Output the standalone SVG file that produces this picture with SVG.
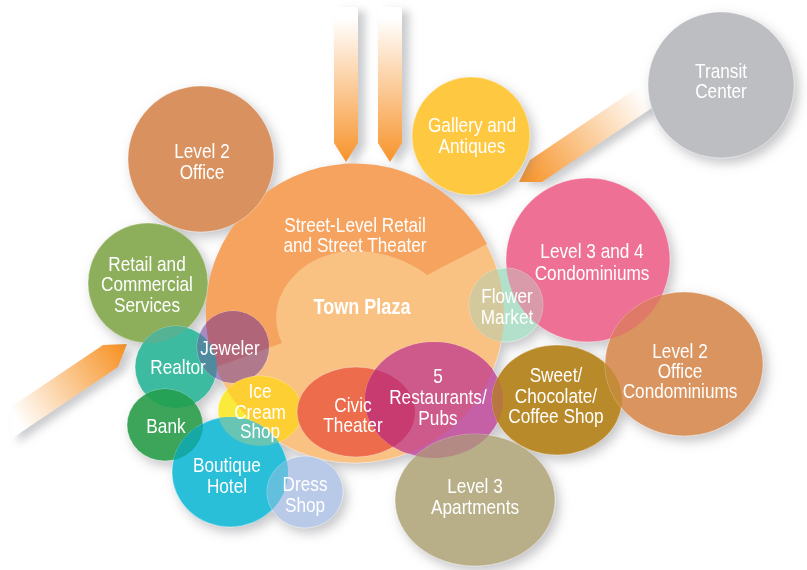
<svg xmlns="http://www.w3.org/2000/svg" xmlns:xlink="http://www.w3.org/1999/xlink" width="807" height="570" viewBox="0 0 807 570">
<style>
.t{fill:#fff;font-family:"Liberation Sans Narrow","Arial Narrow","Liberation Sans",sans-serif;font-size:21px;text-anchor:middle}
.b{font-weight:bold;font-size:22px}
.edge{stroke:#fff;stroke-opacity:0.45;stroke-width:0.8}
</style>
<defs>
<filter id="sh" x="-20%" y="-20%" width="140%" height="140%">
<feDropShadow dx="4" dy="5" stdDeviation="6" flood-color="#7a7c82" flood-opacity="0.45"/>
</filter>
<filter id="sha" x="-30%" y="-10%" width="160%" height="130%">
<feDropShadow dx="7" dy="4" stdDeviation="4" flood-color="#8a8c92" flood-opacity="0.45"/>
</filter>
<linearGradient id="gTop" gradientUnits="userSpaceOnUse" x1="0" y1="18" x2="0" y2="162">
<stop offset="0" stop-color="#ffffff"/><stop offset="1" stop-color="#f7932b"/>
</linearGradient>
<linearGradient id="gTr" gradientUnits="userSpaceOnUse" x1="525" y1="178" x2="645" y2="96">
<stop offset="0" stop-color="#f7962e"/><stop offset="1" stop-color="#ffffff"/>
</linearGradient>
<linearGradient id="gLf" gradientUnits="userSpaceOnUse" x1="18" y1="422" x2="122" y2="352">
<stop offset="0" stop-color="#ffffff"/><stop offset="1" stop-color="#f7962c"/>
</linearGradient>
<circle id="s-big" cx="355" cy="314" r="149"/>
<path id="s-band" d="M216,367 A149,149 0 0 1 487,244 L427,275 C410,262 385,251 355,251 C320,251 290,270 279,300 C274,315 276,330 282,343 Z"/>
<circle id="s-office2" cx="201" cy="159" r="73"/>
<circle id="s-gallery" cx="471" cy="136" r="59"/>
<circle id="s-transit" cx="721" cy="85" r="73"/>
<circle id="s-pink" cx="588" cy="260" r="82"/>
<circle id="s-retail" cx="148" cy="283" r="60"/>
<circle id="s-flower" cx="506" cy="305" r="37"/>
<circle id="s-realtor" cx="176" cy="367" r="41"/>
<ellipse id="s-bank" cx="165" cy="425" rx="38" ry="36"/>
<circle id="s-jeweler" cx="233" cy="347" r="36"/>
<ellipse id="s-ice" cx="260" cy="411" rx="42" ry="35"/>
<ellipse id="s-hotel" cx="230" cy="472" rx="58" ry="55"/>
<ellipse id="s-dress" cx="305" cy="492" rx="38" ry="36"/>
<ellipse id="s-civic" cx="356" cy="412" rx="59" ry="45"/>
<ellipse id="s-rest" cx="434" cy="400" rx="69" ry="58"/>
<ellipse id="s-sweet" cx="557" cy="400" rx="65" ry="55"/>
<ellipse id="s-office2c" cx="684" cy="364" rx="79" ry="72"/>
<ellipse id="s-apts" cx="475" cy="500" rx="80" ry="66"/>
<clipPath id="c-big"><use xlink:href="#s-big"/></clipPath>
<clipPath id="c-band"><use xlink:href="#s-band"/></clipPath>
<clipPath id="c-pink"><use xlink:href="#s-pink"/></clipPath>
<clipPath id="c-retail"><use xlink:href="#s-retail"/></clipPath>
<clipPath id="c-realtor"><use xlink:href="#s-realtor"/></clipPath>
<clipPath id="c-bank"><use xlink:href="#s-bank"/></clipPath>
<clipPath id="c-hotel"><use xlink:href="#s-hotel"/></clipPath>
<clipPath id="c-civic"><use xlink:href="#s-civic"/></clipPath>
<clipPath id="c-rest"><use xlink:href="#s-rest"/></clipPath>
<clipPath id="c-office2c"><use xlink:href="#s-office2c"/></clipPath>
</defs>
<rect width="807" height="570" fill="#ffffff"/>

<g id="connectors" filter="url(#sha)">
<polygon id="arrow-top-1" points="334,7 358,7 358,143 346,162 334,143" fill="url(#gTop)"/>
<polygon id="arrow-top-2" points="378,7 402,7 402,143 390,162 378,143" fill="url(#gTop)"/>
<polygon id="arrow-transit" points="519,182 530,160 680,59 680,89 542,182" fill="url(#gTr)"/>
<polygon id="arrow-left" points="127,344 103,345 11,407 11,439 118,367" fill="url(#gLf)"/>
</g>

<g id="nodes" filter="url(#sh)">
<g id="street-level-retail"><use xlink:href="#s-big" fill="#f9c283" class="edge"/><use xlink:href="#s-band" fill="#f6a35f"/></g>
<g id="level2-office"><use xlink:href="#s-office2" fill="#d9925f" class="edge"/></g>
<g id="gallery-antiques"><use xlink:href="#s-gallery" fill="#fec840" class="edge"/></g>
<g id="transit-center"><use xlink:href="#s-transit" fill="#bdbec2" class="edge"/></g>
<g id="level34-condos"><use xlink:href="#s-pink" fill="#ef6f95" class="edge"/></g>
<g id="retail-commercial"><use xlink:href="#s-retail" fill="#8daf5b" class="edge"/></g>
<g id="flower-market"><use xlink:href="#s-flower" fill="#b2e0cb" class="edge"/>
<g clip-path="url(#c-big)"><use xlink:href="#s-flower" fill="#d4c99c"/></g>
<g clip-path="url(#c-pink)"><use xlink:href="#s-flower" fill="#d99ba9"/></g></g>
<g id="realtor"><use xlink:href="#s-realtor" fill="#3dbba1" class="edge"/>
<g clip-path="url(#c-retail)"><use xlink:href="#s-realtor" fill="#55b292"/></g></g>
<g id="bank"><use xlink:href="#s-bank" fill="#3ca55a" class="edge"/>
<g clip-path="url(#c-realtor)"><use xlink:href="#s-bank" fill="#25a257"/></g></g>
<g id="jeweler"><use xlink:href="#s-jeweler" fill="#a58ac5" class="edge"/>
<g clip-path="url(#c-big)"><use xlink:href="#s-jeweler" fill="#b07a8c"/></g>
<g clip-path="url(#c-band)"><use xlink:href="#s-jeweler" fill="#b06678"/></g>
<g clip-path="url(#c-realtor)"><use xlink:href="#s-jeweler" fill="#4f8a9f"/></g></g>
<g id="ice-cream-shop"><use xlink:href="#s-ice" fill="#fbea3b" class="edge"/>
<g clip-path="url(#c-big)"><use xlink:href="#s-ice" fill="#fecf33"/></g></g>
<g id="boutique-hotel"><use xlink:href="#s-hotel" fill="#2bbfd9" class="edge"/>
<g clip-path="url(#c-bank)"><use xlink:href="#s-hotel" fill="#15a8a5"/></g></g>
<g id="ice-hotel-overlap" clip-path="url(#c-hotel)"><use xlink:href="#s-ice" fill="#67c4b3"/></g>
<g id="dress-shop"><use xlink:href="#s-dress" fill="#b8cae7" class="edge"/>
<g clip-path="url(#c-hotel)"><use xlink:href="#s-dress" fill="#62bfdd"/></g></g>
<g id="civic-theater"><use xlink:href="#s-civic" fill="#ec6c4b" class="edge"/></g>
<g id="restaurants-pubs"><use xlink:href="#s-rest" fill="#c55ea6" class="edge"/>
<g clip-path="url(#c-big)"><use xlink:href="#s-rest" fill="#ce5a8b"/></g>
<g clip-path="url(#c-civic)"><use xlink:href="#s-rest" fill="#c83a70"/></g></g>
<g id="sweet-coffee-shop"><use xlink:href="#s-sweet" fill="#b98a2b" class="edge"/>
<g clip-path="url(#c-rest)"><use xlink:href="#s-sweet" fill="#b8773f"/></g></g>
<g id="level2-office-condos"><use xlink:href="#s-office2c" fill="#d9945f" class="edge"/>
<g clip-path="url(#c-pink)"><use xlink:href="#s-office2c" fill="#e07a67"/></g></g>
<g id="sweet-condo-overlap" clip-path="url(#c-office2c)"><use xlink:href="#s-sweet" fill="#c48b38"/></g>
<g id="level3-apartments"><use xlink:href="#s-apts" fill="#b8af89" class="edge"/>
<g clip-path="url(#c-rest)"><use xlink:href="#s-apts" fill="#b38a84"/></g></g>
</g>

<g id="labels" transform="scale(0.82 1)">
<text class="t" x="432.9" y="232">Street-Level Retail</text>
<text class="t" x="432.9" y="252">and Street Theater</text>
<text class="t b" x="441.5" y="314">Town Plaza</text>
<text class="t" x="246.3" y="158">Level 2</text>
<text class="t" x="246.3" y="179">Office</text>
<text class="t" x="575.6" y="132">Gallery and</text>
<text class="t" x="575.6" y="153">Antiques</text>
<text class="t" x="879.3" y="78" fill="#f4f4f4">Transit</text>
<text class="t" x="879.3" y="98" fill="#f4f4f4">Center</text>
<text class="t" x="722" y="258">Level 3 and 4</text>
<text class="t" x="722" y="280">Condominiums</text>
<text class="t" x="179.3" y="271">Retail and</text>
<text class="t" x="179.3" y="291">Commercial</text>
<text class="t" x="179.3" y="312">Services</text>
<text class="t" x="618.3" y="303">Flower</text>
<text class="t" x="618.3" y="324">Market</text>
<text class="t" x="280.5" y="355">Jeweler</text>
<text class="t" x="217.1" y="374">Realtor</text>
<text class="t" x="317.1" y="398">Ice</text>
<text class="t" x="317.1" y="419">Cream</text>
<text class="t" x="317.1" y="438">Shop</text>
<text class="t" x="202.4" y="433">Bank</text>
<text class="t" x="276.8" y="472">Boutique</text>
<text class="t" x="276.8" y="493">Hotel</text>
<text class="t" x="372" y="491">Dress</text>
<text class="t" x="372" y="512">Shop</text>
<text class="t" x="430.5" y="412">Civic</text>
<text class="t" x="430.5" y="432">Theater</text>
<text class="t" x="534.1" y="383">5</text>
<text class="t" x="534.1" y="404">Restaurants/</text>
<text class="t" x="534.1" y="425">Pubs</text>
<text class="t" x="678" y="382">Sweet/</text>
<text class="t" x="678" y="403">Chocolate/</text>
<text class="t" x="678" y="423">Coffee Shop</text>
<text class="t" x="829.3" y="358">Level 2</text>
<text class="t" x="829.3" y="378">Office</text>
<text class="t" x="829.3" y="398">Condominiums</text>
<text class="t" x="579.3" y="493">Level 3</text>
<text class="t" x="579.3" y="514">Apartments</text>
</g>
</svg>
